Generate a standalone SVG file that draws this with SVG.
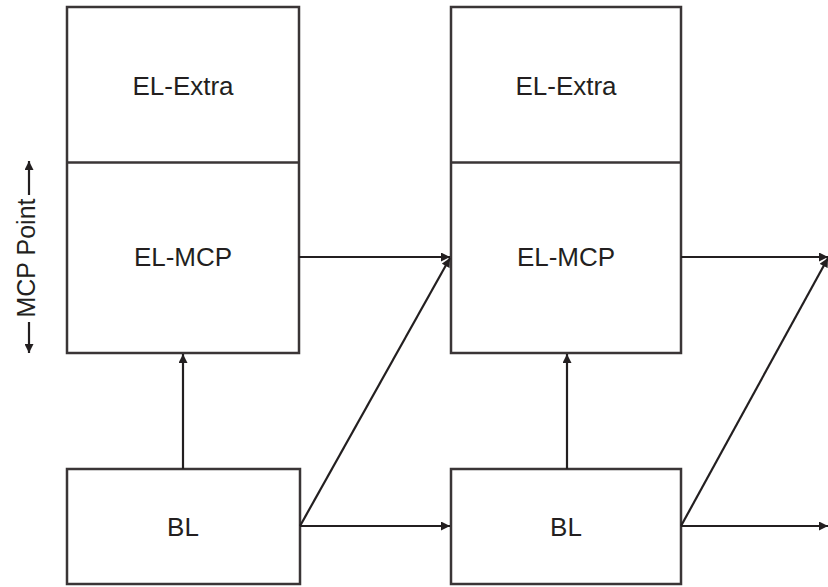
<svg xmlns="http://www.w3.org/2000/svg" width="828" height="587" viewBox="0 0 828 587">
<style>
.box{fill:#fff;stroke:#3a3536;stroke-width:2.5}
.lbl{font-family:"Liberation Sans",Arial,sans-serif;font-size:26px;fill:#231f20;text-anchor:middle}
.ln{stroke:#231f20;stroke-width:2.2;fill:none}
</style>
<defs>
<marker id="ah" viewBox="0 0 10 10" refX="10" refY="5" markerWidth="10" markerHeight="9" markerUnits="userSpaceOnUse" orient="auto">
<path d="M0,0 L10,5 L0,10 Z" fill="#231f20"/>
</marker>
</defs>
<rect width="828" height="587" fill="#fff"/>
<g id="el-left">
<rect class="box" x="67" y="7" width="232" height="346"/>
<line class="box" x1="67" y1="162.5" x2="299" y2="162.5"/>
<text class="lbl" x="183" y="95">EL-Extra</text>
<text class="lbl" x="183" y="266">EL-MCP</text>
</g>
<g id="el-right">
<rect class="box" x="451" y="7" width="230" height="346"/>
<line class="box" x1="451" y1="162.5" x2="681" y2="162.5"/>
<text class="lbl" x="566" y="95">EL-Extra</text>
<text class="lbl" x="566" y="266">EL-MCP</text>
</g>
<g id="bl-left">
<rect class="box" x="67" y="469" width="233" height="115"/>
<text class="lbl" x="183" y="536">BL</text>
</g>
<g id="bl-right">
<rect class="box" x="451" y="469" width="230" height="115"/>
<text class="lbl" x="566" y="536">BL</text>
</g>
<g id="mcp-point">
<line class="ln" x1="29" y1="195" x2="29" y2="161" marker-end="url(#ah)"/>
<line class="ln" x1="29" y1="322" x2="29" y2="353" marker-end="url(#ah)"/>
<text class="lbl" transform="translate(35,258) rotate(-90)" font-size="25" style="font-size:25px">MCP Point</text>
</g>
<g id="connectors">
<line class="ln" x1="183" y1="469" x2="183" y2="354" marker-end="url(#ah)"/>
<line class="ln" x1="567" y1="469" x2="567" y2="354" marker-end="url(#ah)"/>
<line class="ln" x1="300" y1="526" x2="450" y2="526" marker-end="url(#ah)"/>
<line class="ln" x1="681" y1="526" x2="828" y2="526" marker-end="url(#ah)"/>
<line class="ln" x1="299" y1="257" x2="450" y2="257" marker-end="url(#ah)"/>
<line class="ln" x1="681" y1="257" x2="828" y2="257" marker-end="url(#ah)"/>
<line class="ln" x1="300" y1="526" x2="450" y2="258" marker-end="url(#ah)"/>
<line class="ln" x1="681" y1="526" x2="828" y2="258" marker-end="url(#ah)"/>
</g>
</svg>
